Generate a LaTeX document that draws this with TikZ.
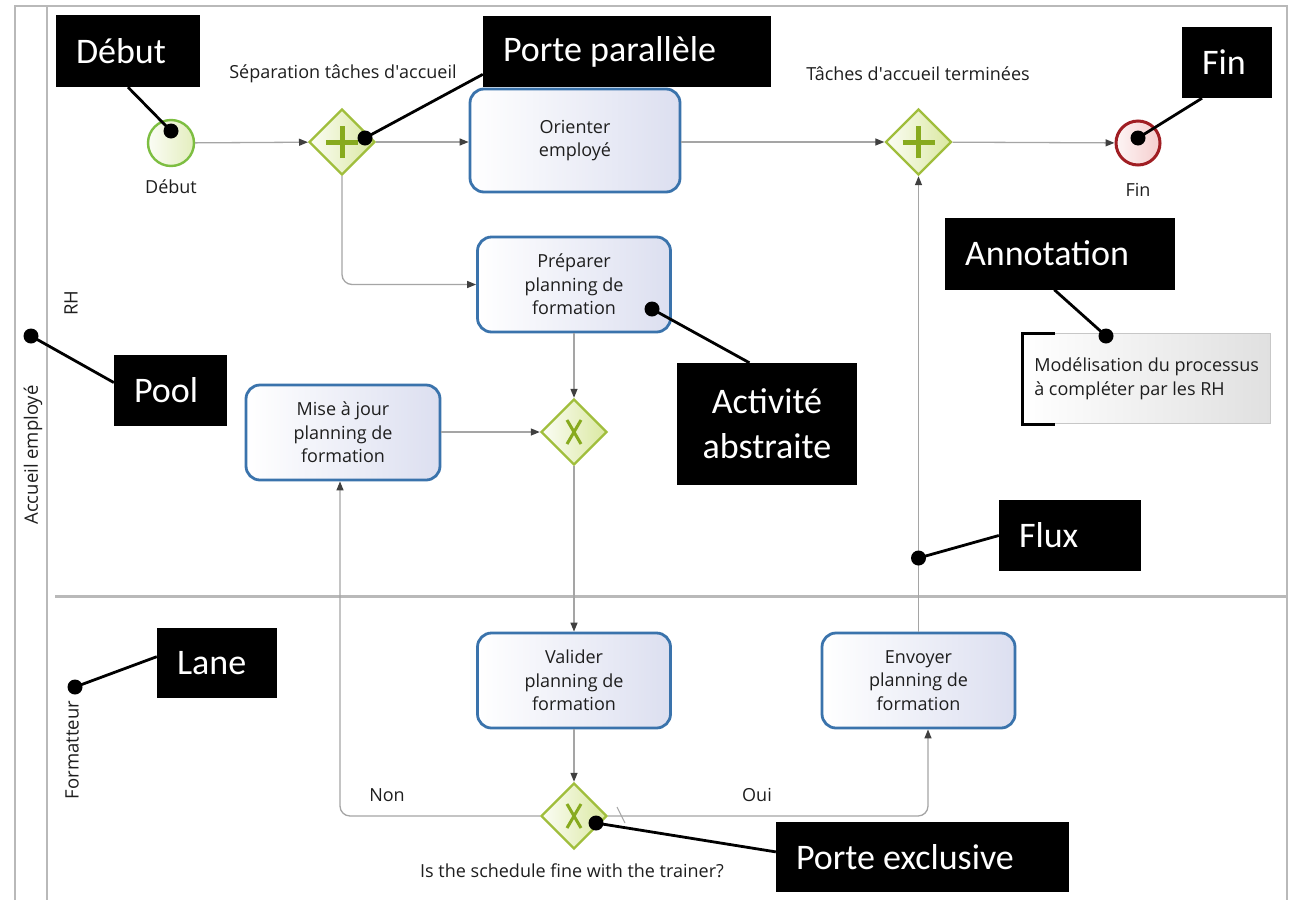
\documentclass[tikz,border=0pt]{standalone}
\usepackage{fontspec}
\setmainfont{Open Sans}
\newfontfamily\callfont{Carlito}
\usetikzlibrary{shapes.geometric,arrows.meta,calc}
\definecolor{flowgray}{RGB}{165,165,165}
\definecolor{framegray}{RGB}{185,185,185}
\definecolor{taskblue}{RGB}{58,115,172}
\definecolor{tasklav}{RGB}{220,223,240}
\definecolor{gwgreen}{RGB}{160,190,60}
\definecolor{gwsym}{RGB}{135,170,30}
\definecolor{gwfill}{RGB}{218,232,160}
\definecolor{startgreen}{RGB}{125,190,65}
\definecolor{startfill}{RGB}{228,238,190}
\definecolor{endred}{RGB}{160,30,35}
\definecolor{endfill}{RGB}{245,205,205}
\definecolor{txt}{RGB}{30,30,30}
\definecolor{annfill}{RGB}{224,224,224}
\begin{document}
\begin{tikzpicture}[x=1pt,y=-1pt,
  txtstyle/.style={text=txt,font=\fontsize{18}{23.5}\selectfont,inner sep=0pt},
  lanelabel/.style={text=txt,font=\fontsize{18.5}{22}\selectfont,rotate=90,inner sep=0pt},
  task/.style={draw=taskblue,line width=2.8pt,rounded corners=14pt,left color=white,right color=tasklav,
    text=txt,font=\fontsize{18}{23.5}\selectfont,align=center,inner sep=2pt},
  gw/.style={diamond,aspect=1,draw=gwgreen,line width=2.4pt,left color=white!90!gwfill,right color=gwfill,
    minimum width=66pt,minimum height=66pt,inner sep=0pt},
  gwplus/.style={gw,path picture={
    \draw[gwsym,line width=5pt] ([xshift=-16pt]path picture bounding box.center) -- ([xshift=16pt]path picture bounding box.center);
    \draw[gwsym,line width=5pt] ([yshift=-16pt]path picture bounding box.center) -- ([yshift=16pt]path picture bounding box.center);}},
  gwx/.style={gw,path picture={
    \draw[gwsym,line width=3pt] ([xshift=-7pt,yshift=-12pt]path picture bounding box.center) -- ([xshift=7pt,yshift=12pt]path picture bounding box.center);
    \draw[gwsym,line width=3pt] ([xshift=7pt,yshift=-12pt]path picture bounding box.center) -- ([xshift=-7pt,yshift=12pt]path picture bounding box.center);}},
  startev/.style={circle,draw=startgreen,line width=2.4pt,left color=white!85!startfill,right color=startfill,minimum size=46pt,inner sep=0pt},
  endev/.style={circle,draw=endred,line width=3pt,left color=white!80!endfill,right color=endfill,minimum size=44pt,inner sep=0pt},
  flow/.style={draw=flowgray,line width=1.3pt,-{Triangle[length=9pt,width=7pt,color=black!75]}},
  frame/.style={draw=framegray,line width=2pt},
  callout/.style={fill=black,text=white,font=\callfont\fontsize{36}{45}\selectfont,align=flush left,inner xsep=20pt,inner ysep=0pt},
  cline/.style={draw=black,line width=2.8pt},
  cdot/.style={circle,fill=black,minimum size=15pt,inner sep=0pt},
  annot/.style={draw=framegray!80,line width=1.2pt,left color=white,right color=annfill,text=txt,
    font=\fontsize{18}{23.5}\selectfont,align=flush left,inner xsep=6pt,inner ysep=0pt}
]
\useasboundingbox (0,0) rectangle (1292,900);
\fill[white] (0,0) rectangle (1292,900);
% pool and lanes
\draw[frame] (15,900) -- (15,6) -- (1287,6) -- (1287,900);
\draw[frame] (47,6) -- (47,900);
\draw[draw=framegray,line width=3pt] (55,596) -- (1287,596);
\node[lanelabel] (pool) at (33,455) {Accueil employé};
\node[lanelabel] (rh) at (71,303) {RH};
\node[lanelabel] (form) at (72,750) {Formatteur};

% events and gateways
\node[startev] (start) at (171,143) {};
\node[txtstyle] (startlbl) at (171,187) {Début};
\node[gwplus] (g1) at (342,142) {};
\node[txtstyle] (g1lbl) at (343,74) {Séparation tâches d\textquotesingle accueil};
\node[task,minimum width=210pt,minimum height=103pt] (ori) at (575,140.5) {Orienter\\employé};
\node[gwplus] (g2) at (918.5,142) {};
\node[txtstyle] (g2lbl) at (918,74) {Tâches d\textquotesingle accueil terminées};
\node[endev] (end) at (1138,143) {};
\node[txtstyle] (endlbl) at (1138,190) {Fin};
\node[task,minimum width=193pt,minimum height=95pt] (prep) at (574,284.5) {Préparer\\planning de\\formation};
\node[gwx] (x1) at (574,432) {};
\node[task,minimum width=194pt,minimum height=95pt] (maj) at (343,432.5) {Mise à jour\\planning de\\formation};
\node[task,minimum width=193pt,minimum height=95pt] (val) at (574,680.5) {Valider\\planning de\\formation};
\node[task,minimum width=193pt,minimum height=95pt] (env) at (918.5,680.5) {Envoyer\\planning de\\formation};
\node[gwx] (x2) at (574,816) {};
\node[txtstyle] (x2lbl) at (572,871) {Is the schedule fine with the trainer?};
\node[txtstyle] (nonlbl) at (387,795) {Non};
\node[txtstyle] (ouilbl) at (757,795) {Oui};

% annotation
\node[annot,minimum width=248pt,minimum height=90pt,anchor=north west] (ann) at (1022,333) {Modélisation du processus\\à compléter par les RH};
\draw[black,line width=3pt] ($(ann.north west)+(33,0)$) -| (ann.south west) -- ++(33,0);

% flows
\draw[flow] (start) -- (g1);
\draw[flow] (g1.east) -- (g1.east -| ori.west);
\draw[flow] (ori.east |- g2.west) -- (g2.west);
\draw[flow] (g2) -- (end);
\draw[flow,rounded corners=10pt] (g1.south) |- (prep.west);
\draw[flow] (prep) -- (x1);
\draw[flow] (maj.east |- x1.west) -- (x1.west);
\draw[flow] (x1) -- (val);
\draw[flow] (val) -- (x2);
\coordinate (nonc) at (340,816);
\draw[flow,rounded corners=10pt] (x2.west) -- (nonc) -- (nonc |- maj.south);
\coordinate (ouic) at (928,816);
\draw[flow,rounded corners=10pt] (x2.east) -- (ouic) -- (ouic |- env.south);
\draw[flow] (env.north) -- (env.north |- g2.south);
\coordinate (sl1) at (617,807);
\coordinate (sl2) at (625,823);
\draw[draw=flowgray,line width=1pt] (sl1) -- (sl2);

% callouts
\node[callout,text width=104pt,minimum height=72pt] (cdeb) at (128,51) {Début};
\node[cdot] (ddeb) at (171,131) {};
\draw[cline] (cdeb.south) -- (ddeb.center);

\node[callout,text width=248pt,minimum height=71pt] (cpp) at (627,51.5) {Porte parallèle};
\node[cdot] (dpp) at (365,138) {};
\draw[cline] (cpp.189) -- (dpp.center);

\node[callout,text width=50pt,minimum height=71pt] (cfin) at (1227,62.5) {Fin};
\node[cdot] (dfin) at (1138,138) {};
\draw[cline] (cfin.235) -- (dfin.center);

\node[callout,text width=190pt,minimum height=72pt] (cann) at (1060,253.5) {Annotation};
\node[cdot] (dann) at (1106,336) {};
\draw[cline] (cann.261) -- (dann.center);

\node[callout,align=center,text width=140pt,minimum height=122pt] (cact) at (767,424) {Activité\\abstraite};
\node[cdot] (dact) at (652,309) {};
\draw[cline] (cact.106) -- (dact.center);

\node[callout,text width=73pt,minimum height=71pt] (cpool) at (170.5,390.5) {Pool};
\node[cdot] (dpool) at (31,336) {};
\draw[cline] (cpool.172) -- (dpool.center);

\node[callout,text width=102pt,minimum height=71pt] (cflux) at (1070,535.5) {Flux};
\node[cdot] (dflux) at (918.5,558) {};
\draw[cline] (cflux.180) -- (dflux.center);

\node[callout,text width=80pt,minimum height=70pt] (clane) at (217,663) {Lane};
\node[cdot] (dlane) at (75,687) {};
\draw[cline] (clane.174) -- (dlane.center);

\node[callout,text width=253pt,minimum height=70pt] (cpex) at (922.5,857) {Porte exclusive};
\node[cdot] (dpex) at (596,823) {};
\draw[cline] (cpex.178) -- (dpex.center);
\end{tikzpicture}
\end{document}
